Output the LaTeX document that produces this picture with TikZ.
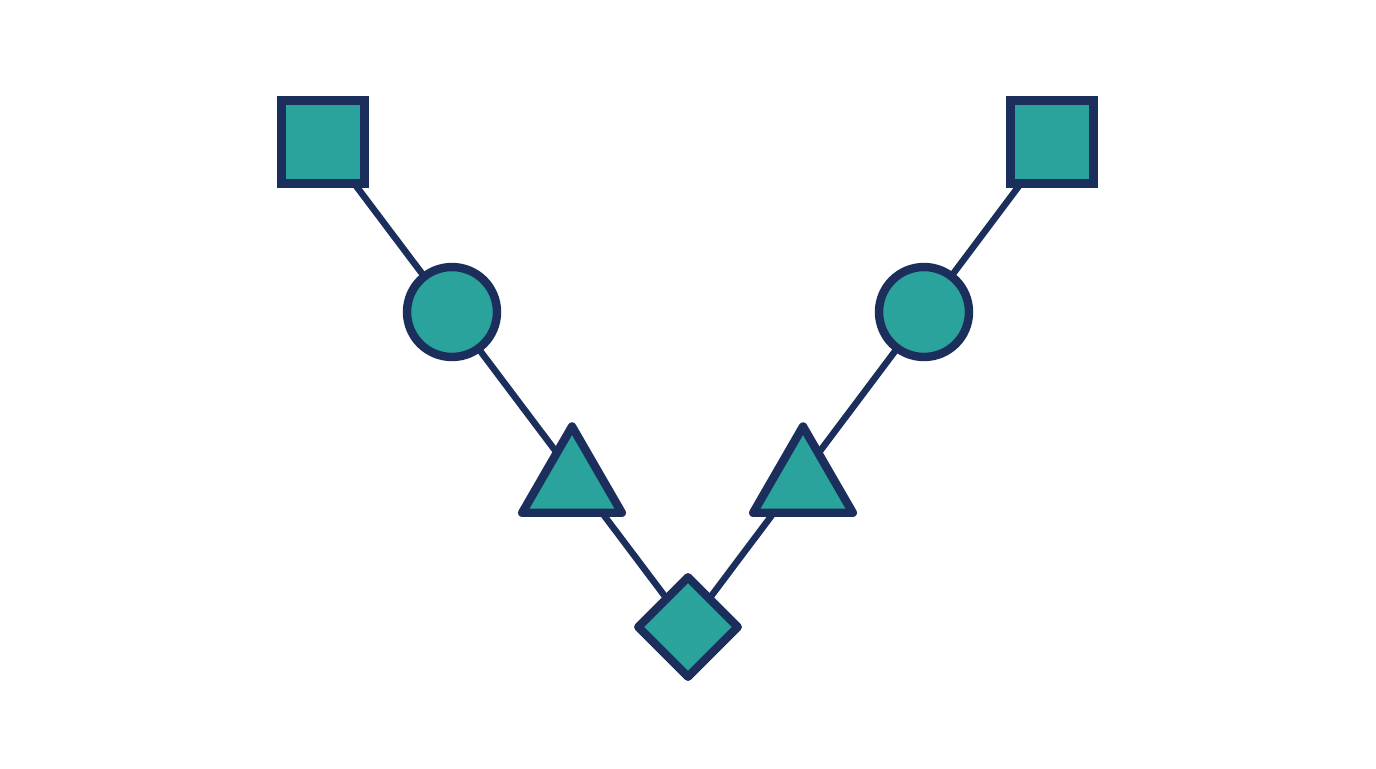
\documentclass[tikz,border=0pt]{standalone}
\usetikzlibrary{shapes.geometric,backgrounds}
\definecolor{navy}{RGB}{27,46,92}
\definecolor{teal}{RGB}{42,163,156}
\begin{document}
\begin{tikzpicture}[x=0.02cm,y=-0.02cm,
  shp/.style={draw=navy,fill=teal,line width=4.8pt,line join=round,inner sep=0pt},
  sqbox/.style={shp,rectangle,minimum size=1.66cm,line join=miter},
  circ/.style={shp,circle,minimum size=1.8cm},
  tri/.style={shp,regular polygon,regular polygon sides=3,minimum size=2.3cm},
  dia/.style={shp,diamond,minimum width=2.06cm,minimum height=2.06cm},
  link/.style={draw=navy,line width=3.7pt}]
\useasboundingbox (0,0) rectangle (1376,768);
\node[sqbox] (s1) at (323,142) {};
\node[circ] (c1) at (452,312) {};
\node[tri] (t1) at (572,484) {};
\node[dia] (d) at (688,627) {};
\node[tri] (t2) at (803,484) {};
\node[circ] (c2) at (924,312) {};
\node[sqbox] (s2) at (1052,142) {};
\begin{scope}[on background layer]
\fill[white] (0,0) rectangle (1376,768);
\draw[link] (s1.center) -- (d.center) -- (s2.center);
\end{scope}
\end{tikzpicture}
\end{document}
